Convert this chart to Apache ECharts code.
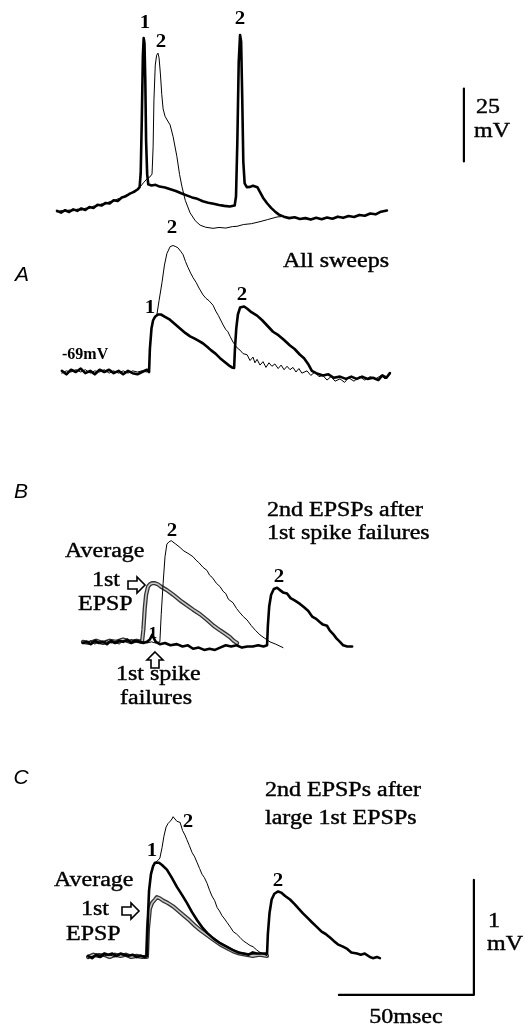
<!DOCTYPE html>
<html><head><meta charset="utf-8">
<script src="https://cdn.jsdelivr.net/npm/echarts@6/dist/echarts.min.js"></script>
<style>html,body{margin:0;padding:0;background:#fff}#c{width:530px;height:1028px}</style>
</head><body><div id="c"></div>
<script>
// ---- Data: [time (ms), membrane potential] ----
// Top: action potentials (absolute mV)
const topThick = [[0,-68.9],[1.5,-69.5],[3,-68.7],[4.5,-69.3],[6,-68.4],[7.5,-68.9],[9,-68.1],[10.5,-68.6],[12,-67.6],[13.5,-67.9],[15,-66.8],[16.5,-67.1],[18,-66.2],[19.5,-66.4],[21,-65.3],[22.5,-65.5],[24,-64.3],[25.5,-63.9],[27,-63.0],[28.5,-62.4],[29.8,-61.6],[30.6,-60.8],[31.0,-56],[31.4,-38],[31.8,-16],[32.1,-9.7],[32.4,-11.5],[32.7,-24],[33.0,-45],[33.4,-56.5],[33.8,-59.8],[35,-60.2],[36.5,-60.0],[38,-60.6],[40,-60.9],[42,-61.5],[44,-62.1],[46,-62.9],[48,-63.6],[50,-64.3],[52,-64.8],[54,-65.6],[56,-66.1],[58,-66.5],[60,-66.9],[62,-67.2],[64,-67.4],[65.8,-67.1],[66.3,-64],[66.8,-45],[67.3,-18],[67.8,-8.7],[68.2,-11],[68.6,-30],[69.0,-52],[69.5,-59.5],[70.3,-60.8],[71.5,-60.7],[72.6,-60.3],[73.3,-60.1],[74.2,-60.8],[75.2,-62.5],[76.3,-64.4],[77.8,-66.3],[79.3,-67.9],[80.7,-69.1],[82.2,-70.2],[84,-70.9],[86,-71.4],[88,-71.1],[90,-71.7],[92,-71.4],[94,-71.9],[96,-71.3],[98,-71.8],[100,-71.2],[102,-71.6],[104,-70.9],[106,-71.3],[108,-70.7],[110,-71.0],[112,-70.3],[114,-70.6],[116,-69.8],[118,-70.1],[120,-69.2],[122.2,-68.8]];
const topThin = [[0,-69.3],[1.5,-68.8],[3,-69.1],[4.5,-68.6],[6,-68.9],[7.5,-68.3],[9,-68.7],[10.5,-68.0],[12,-68.1],[13.5,-67.3],[15,-67.2],[16.5,-66.5],[18,-66.6],[19.5,-65.7],[21,-65.6],[22.5,-64.8],[24,-64.6],[25.5,-63.5],[27,-63.2],[28.5,-62.1],[29.8,-61.7],[31,-60.5],[32,-59.3],[33.3,-58.0],[34.4,-57.3],[35.2,-56.3],[35.6,-47],[35.9,-31],[36.4,-19],[36.9,-15.6],[37.4,-14.9],[37.8,-16.5],[38.3,-22],[38.8,-29],[39.3,-34.0],[40.0,-36.5],[40.8,-37.8],[41.9,-39.5],[43.0,-43.5],[44.4,-50.3],[45.4,-56.5],[46.3,-60.7],[47.5,-65.3],[49.3,-69.6],[51.2,-72.3],[53,-73.8],[55,-74.5],[57.8,-74.9],[60,-74.6],[62.5,-74.8],[65,-74.3],[66.7,-74.2],[69,-73.6],[72,-73.3],[75.2,-72.6],[78,-71.9],[81.5,-71.0],[84,-70.8]];
// A: all sweeps (mV relative to -69 mV)
const aThick = [[1.8,0.01],[3.5,-0.02],[5.2,0.02],[7,0.0],[8.8,0.03],[10.5,-0.01],[12.3,0.01],[14,-0.02],[15.8,0.02],[17.5,0.0],[19.3,0.02],[21,-0.01],[22.8,0.01],[24.5,-0.02],[26.3,0.01],[28,-0.01],[29.8,-0.02],[31.5,0.0],[33.3,0.02],[34.1,0.0],[34.4,0.2],[35.0,0.38],[35.6,0.45],[36.3,0.48],[37.4,0.50],[38.5,0.50],[40,0.48],[41.5,0.46],[43,0.43],[44.5,0.40],[46,0.37],[47.5,0.34],[49.3,0.31],[51,0.29],[52.5,0.27],[54,0.25],[55.6,0.22],[57,0.19],[58.7,0.16],[60.4,0.12],[62,0.09],[63.5,0.06],[64.8,0.04],[65.6,0.035],[65.9,0.2],[66.4,0.38],[67.0,0.50],[67.8,0.56],[68.5,0.57],[69.3,0.57],[70.5,0.55],[72,0.52],[74.1,0.49],[76,0.45],[78,0.40],[80,0.35],[82,0.32],[84,0.28],[86.3,0.23],[88,0.20],[90,0.15],[91.5,0.12],[93,0.07],[94.4,0.01],[96,-0.01],[98.5,-0.03],[100.5,-0.02],[102.5,-0.05],[104.8,-0.04],[107,-0.06],[109,-0.04],[111,-0.06],[113,-0.04],[115,-0.06],[117,-0.05],[119,-0.07],[120.5,-0.03],[122,-0.05],[123.3,-0.01]];
const aThin = [[1.8,-0.01],[3.5,0.01],[5.2,0.0],[7,0.02],[8.8,0.0],[10.5,0.02],[12.3,-0.01],[14,0.01],[15.8,0.0],[17.5,0.02],[19.3,-0.01],[21,0.01],[22.8,-0.01],[24.5,0.01],[26.3,-0.01],[28,0.01],[29.8,0.0],[31.5,0.01],[33.3,0.0],[34.1,0.01],[34.4,0.2],[35.0,0.38],[35.6,0.45],[36.3,0.48],[37.0,0.50],[37.8,0.62],[38.9,0.78],[39.8,0.93],[40.7,1.03],[41.9,1.09],[43.0,1.10],[44.0,1.09],[44.8,1.08],[45.8,1.05],[46.7,1.02],[47.6,0.96],[48.5,0.91],[49.5,0.86],[50.4,0.82],[51.5,0.78],[52.6,0.73],[54.1,0.67],[55.2,0.64],[56.3,0.62],[57.8,0.58],[58.8,0.53],[59.8,0.49],[61.5,0.41],[62.5,0.37],[63.3,0.35],[64.1,0.31],[65.2,0.26],[66.7,0.21],[67.8,0.19],[68.9,0.16],[70.4,0.15],[71.5,0.10],[72.6,0.13],[73.3,0.08],[74.1,0.11],[75.2,0.06],[76.3,0.09],[77.4,0.04],[78.5,0.08],[79.6,0.05],[80.7,0.07],[81.9,0.03],[83.0,0.06],[84.1,0.02],[85.2,0.05],[86.3,0.02],[87.4,0.04],[88.5,0.0],[89.6,0.03],[90.7,-0.01],[92.6,0.01],[94,-0.03],[95.5,0.0],[97,-0.04],[98.5,-0.03],[100,-0.07],[101.5,-0.04],[103,-0.08],[104.8,-0.06],[106.5,-0.09],[108,-0.05],[110,-0.08],[112,-0.04],[114,-0.07],[116,-0.04],[118,-0.06],[120,-0.03],[121.5,-0.06],[123.3,-0.02]];
// B: 2nd EPSPs after 1st spike failures
const bThick = [[9.6,0.0],[11,0.01],[12.5,-0.01],[14,0.02],[15.5,0.0],[17,0.01],[18.5,-0.01],[20,0.02],[21.5,0.0],[23,0.02],[24.5,0.01],[26,0.03],[27.5,0.0],[29,0.02],[30.5,0.01],[32,0.0],[33.3,0.01],[34.4,0.03],[35.2,0.07],[35.9,0.06],[36.6,0.01],[38.1,-0.01],[40,0.0],[42,-0.02],[44.4,-0.01],[46.5,-0.03],[48.5,-0.02],[50.4,-0.05],[52.5,-0.04],[54.5,-0.06],[56.5,-0.05],[58.5,-0.06],[60.4,-0.04],[62.5,-0.02],[64.5,-0.03],[66.5,-0.02],[68.5,-0.04],[70.5,-0.03],[72.5,-0.03],[74.5,-0.02],[76.5,-0.03],[77.8,-0.02],[78.1,0.15],[78.6,0.32],[79.3,0.42],[80.3,0.47],[81.5,0.48],[82.6,0.46],[83.7,0.44],[85.2,0.43],[86.5,0.39],[88,0.37],[90.0,0.34],[91.5,0.31],[93,0.28],[94.5,0.23],[96,0.21],[97.4,0.18],[98.5,0.16],[100,0.15],[101,0.11],[102.2,0.08],[103.5,0.04],[104.8,0.01],[106,-0.02],[107.5,-0.03],[109.3,-0.03]];
const bThin = [[9.6,0.01],[11,0.0],[12.5,0.02],[14,-0.01],[15.5,0.01],[17,0.0],[18.5,0.02],[20,0.0],[21.5,0.01],[23,-0.01],[24.5,0.02],[26,0.01],[27.5,0.03],[29,0.01],[30.5,0.02],[32,0.01],[33.3,0.0],[35,0.01],[36.5,0.0],[38.1,0.01],[38.6,0.25],[39.3,0.52],[40,0.75],[40.7,0.86],[41.5,0.88],[42.3,0.89],[43.0,0.89],[44,0.86],[45.6,0.83],[47,0.80],[48.5,0.78],[50.4,0.75],[51.5,0.72],[52.5,0.70],[54,0.66],[55.6,0.63],[56.5,0.59],[57.5,0.57],[59,0.52],[60.4,0.49],[61.5,0.45],[62.5,0.43],[63.5,0.38],[65.2,0.35],[66.5,0.30],[67.5,0.27],[69,0.23],[70.4,0.20],[72,0.15],[73.5,0.11],[75.2,0.07],[77,0.04],[78.9,0.01],[81,-0.01],[83.7,-0.04]];
const bAverage = [[9.6,0.01],[12,0.0],[14.5,0.02],[17,0.0],[19.5,0.02],[22,0.01],[24.5,0.03],[27,0.01],[29.5,0.02],[31.5,0.01],[32.0,0.12],[32.5,0.30],[33.0,0.42],[33.7,0.49],[34.4,0.51],[35.2,0.52],[36.3,0.52],[37.4,0.51],[38.5,0.49],[40.7,0.46],[43,0.42],[45.6,0.37],[48,0.33],[50.4,0.29],[53,0.25],[55.6,0.20],[58,0.15],[60.4,0.11],[62.3,0.08],[64.1,0.05],[65.4,0.02],[66.7,0.0]];
// C: 2nd EPSPs after large 1st EPSPs
const cThick = [[11.5,0.01],[13,-0.01],[14.5,0.02],[16,0.0],[17.5,0.03],[19,0.02],[20.5,0.03],[22,0.01],[23.5,0.03],[25,0.02],[26.5,0.01],[28,0.02],[29.5,0.0],[31,0.01],[32.5,0.0],[33.3,0.01],[33.6,0.30],[34.1,0.58],[34.8,0.72],[35.6,0.79],[36.3,0.82],[37.0,0.83],[37.8,0.82],[38.9,0.80],[40.7,0.76],[42.5,0.69],[44.4,0.61],[46.3,0.54],[48.1,0.47],[50,0.39],[51.9,0.32],[53.7,0.26],[55.6,0.21],[58,0.16],[60.4,0.12],[62.8,0.09],[65.2,0.06],[67,0.04],[68.9,0.03],[71,0.02],[72.5,0.04],[74,0.03],[75.5,0.03],[77.8,0.03],[78.1,0.2],[78.7,0.38],[79.5,0.50],[80.5,0.55],[81.9,0.57],[83,0.56],[84.5,0.53],[86.3,0.50],[88,0.46],[89.5,0.42],[91.1,0.38],[92.8,0.34],[94.5,0.30],[96.3,0.26],[98,0.22],[99.5,0.20],[101.1,0.17],[102.5,0.14],[104,0.11],[105.9,0.09],[107.5,0.07],[109,0.04],[111.1,0.03],[112.5,0.02],[114,0.03],[115.9,0.0],[117,-0.01],[118.5,0.0],[119.6,-0.01]];
const cThin = [[11.5,-0.01],[13.5,0.01],[15.5,0.03],[17.5,0.01],[19.5,0.02],[21.5,0.0],[23.5,0.02],[25.5,0.01],[27.5,0.02],[29.5,0.01],[31.5,0.01],[33.3,0.0],[33.6,0.3],[34.1,0.58],[34.8,0.72],[35.6,0.79],[36.3,0.82],[37.4,0.84],[38.1,0.86],[38.9,0.95],[39.6,1.05],[40.4,1.13],[41.1,1.16],[41.9,1.18],[42.6,1.20],[43.0,1.22],[43.7,1.20],[44.4,1.18],[45.6,1.17],[46.5,1.10],[47.4,1.06],[48.1,1.02],[49.0,0.97],[50,0.91],[51,0.87],[51.9,0.82],[52.8,0.77],[53.7,0.72],[54.6,0.69],[55.6,0.64],[56.5,0.58],[57.4,0.53],[58.4,0.49],[59.3,0.43],[60.2,0.40],[61.1,0.36],[62.1,0.33],[63.0,0.30],[64.2,0.26],[65.3,0.22],[66.5,0.20],[67.8,0.17],[69,0.14],[70.3,0.12],[71.5,0.10],[72.6,0.09],[74,0.06],[75.2,0.04],[76.3,0.03],[77.8,0.01]];
const cAverage = [[11.5,0.0],[13.5,0.02],[15.5,0.01],[17.5,0.02],[19.5,0.0],[21.5,0.02],[23.5,0.01],[25.5,0.02],[27.5,0.0],[29.5,0.01],[31.5,0.0],[33.3,0.0],[33.7,0.25],[34.4,0.42],[35.2,0.47],[36.3,0.50],[37.0,0.52],[38.1,0.51],[39.3,0.49],[41,0.47],[43,0.44],[45,0.40],[47,0.36],[49,0.32],[51.2,0.27],[53.3,0.23],[55.6,0.19],[58,0.15],[60.4,0.11],[62.8,0.08],[65.2,0.05],[67.5,0.03],[70,0.02],[72.5,0.01],[75,0.02],[77.8,0.01]];
// Scale bars
const topScaleBar = [[150.7,-52],[150.7,-27]];          // 25 mV
const cScaleBar = [[104.4,-0.33],[154.4,-0.33],[154.4,0.67]]; // 50 ms, 1 mV

// ---- Layout ----
const SERIF = '"Liberation Serif","Times New Roman",serif';
const SANS = '"Liberation Sans",Arial,sans-serif';
const grids = [
  {left:57, width:432, top:0, height:245.28},
  {left:57, width:432, top:222.5, height:184},
  {left:57, width:432, top:493.5, height:207},
  {left:57, width:432, top:807.5, height:218.5}
];
const yRanges = [[-80.7,3.3],[-0.3,1.3],[-0.5,1.3],[-0.6,1.3]];

function line(data, gi, w, color, z) {
  return {type:'line', data, xAxisIndex:gi, yAxisIndex:gi, showSymbol:false, symbol:'none',
    clip:false, silent:true, animation:false, z,
    lineStyle:{width:w, color, join:'round', cap:'round'}};
}
function txt(s, x, y, o) {
  o = o || {};
  return {type:'text', x, y, scaleX:o.sx || 1, z:100, silent:true,
    style:{text:s, fill:'#000', fontFamily:o.ff || SERIF, fontSize:o.fs || 20,
      fontWeight:o.fw || 'normal', fontStyle:o.st || 'normal',
      align:o.al || 'left', verticalAlign:'middle',
      stroke:o.stroke || null, lineWidth:o.stroke ? 0.4 : 0}};
}
function num(s, x, y, fs) { return txt(s, x, y, {fw:'bold', fs:fs || 19, al:'center', sx:1.1}); }
function lab(s, x, y, al) { return txt(s, x, y, {fs:20, sx:1.2, al:al || 'left', stroke:'#000'}); }
function panel(s, x, y) { return txt(s, x, y, {ff:SANS, st:'italic', fs:21, al:'center'}); }
function arrow(pts) {
  return {type:'polygon', z:100, silent:true, shape:{points:pts},
    style:{fill:'#fff', stroke:'#000', lineWidth:1.6}};
}

const series = [
  line(topThin, 0, 1, '#000', 2),
  line(topThick, 0, 2.6, '#000', 3),
  line(topScaleBar, 0, 2.2, '#000', 3),
  line(aThin, 1, 1, '#000', 2),
  line(aThick, 1, 2.6, '#000', 3),
  line(bAverage, 2, 4.2, '#333', 1),
  line(bAverage, 2, 1.6, '#c8c8c8', 1.5),
  line(bThin, 2, 1, '#000', 2),
  line(bThick, 2, 2.6, '#000', 3),
  line(cAverage, 3, 4.2, '#333', 1),
  line(cAverage, 3, 1.6, '#c8c8c8', 1.5),
  line(cThin, 3, 1, '#000', 2),
  line(cThick, 3, 2.6, '#000', 3),
  line(cScaleBar, 3, 2.2, '#000', 3)
];

const graphic = [
  // top
  num('1', 145, 23), num('2', 161, 42), num('2', 240, 19),
  lab('25', 476, 108), lab('mV', 474, 132),
  // A
  panel('A', 22, 275),
  lab('All sweeps', 283, 262),
  txt('-69mV', 62, 355, {fw:'bold', fs:16}),
  num('1', 150, 308), num('2', 242, 295), num('2', 172, 228),
  // B
  panel('B', 21, 492),
  lab('2nd EPSPs after', 267, 511), lab('1st spike failures', 267, 534),
  lab('Average', 65, 552), lab('1st', 92, 581), lab('EPSP', 78, 605),
  arrow([[128,581],[137,581],[137,577],[145,585],[137,593],[137,589],[128,589]]),
  arrow([[155,652],[163,660],[159,660],[159,668],[151,668],[151,660],[147,660]]),
  lab('1st spike', 116, 675), lab('failures', 120, 699),
  num('2', 172, 531), num('2', 279, 577), num('1', 153, 634, 16),
  // C
  panel('C', 21, 778),
  lab('2nd EPSPs after', 265, 791), lab('large 1st EPSPs', 265, 819),
  lab('Average', 54, 881), lab('1st', 81, 910), lab('EPSP', 66, 935),
  arrow([[122,907],[131,907],[131,903],[139,911],[131,919],[131,915],[122,915]]),
  num('1', 152, 851), num('2', 188, 822), num('2', 278, 881),
  lab('1', 488, 922), lab('mV', 487, 945),
  lab('50msec', 406, 1018, 'center')
];

const chart = echarts.init(document.getElementById('c'), null, {renderer:'canvas'});
chart.setOption({
  backgroundColor:'#fff',
  animation:false,
  grid: grids,
  xAxis: grids.map((g,i) => ({gridIndex:i, type:'value', min:0, max:160, show:false})),
  yAxis: grids.map((g,i) => ({gridIndex:i, type:'value', min:yRanges[i][0], max:yRanges[i][1], show:false})),
  series,
  graphic
});
</script></body></html>
